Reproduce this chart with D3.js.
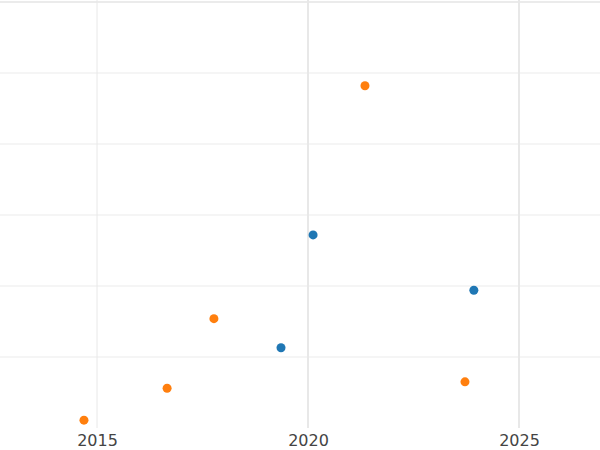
<!DOCTYPE html>
<html><head><meta charset="utf-8">
<script src="https://cdn.jsdelivr.net/npm/d3@7"></script>
<style>body{margin:0;background:#fff}</style>
</head><body>
<svg id="chart" width="600" height="450"></svg>
<script>
// series data
var orangeX = [2014.69, 2016.66, 2017.77, 2021.35, 2023.72];
var orangeY = [0.11, 0.56, 1.54, 4.82, 0.65];
var blueX = [2019.36, 2020.12, 2023.93];
var blueY = [1.13, 2.72, 1.94];
var xTicks = [2015, 2020, 2025];
var yTicks = [1, 2, 3, 4, 5, 6];

var svg = d3.select("#chart");
var x = d3.scaleLinear().domain([2012.7, 2026.92]).range([0, 600]);
var y = d3.scaleLinear().domain([0, 6]).range([428, 2]);

svg.selectAll(".hg").data(yTicks).enter().append("line")
    .attr("x1", 0).attr("x2", 600)
    .attr("y1", function(d){ return y(d); }).attr("y2", function(d){ return y(d); })
    .style("stroke", "#ebebeb").style("stroke-width", function(d){ return d==6 ? 2 : 1; });

svg.selectAll(".vg").data(xTicks).enter().append("line")
    .attr("x1", function(d){ return x(d); }).attr("x2", function(d){ return x(d); })
    .attr("y1", 0).attr("y2", 428)
    .style("stroke", "#e8e8e8").style("stroke-width", function(d){ return d==2015 ? 1 : 2; });

var xAxis = svg.append("g").attr("transform", "translate(0,428)")
    .call(d3.axisBottom(x).tickValues(xTicks).tickFormat(d3.format("d")).tickSize(0).tickPadding(7));
xAxis.select(".domain").remove();
xAxis.selectAll("text").style("font-family", "DejaVu Sans").style("font-size", "16px").style("fill", "#444");

function dots(xs, ys, color) {
    svg.append("g").selectAll("circle").data(xs).enter().append("circle")
        .attr("cx", function(d){ return x(d); })
        .attr("cy", function(d, i){ return y(ys[i]); })
        .attr("r", 4.5).style("fill", color);
}
dots(orangeX, orangeY, "#ff7f0e");
dots(blueX, blueY, "#1f77b4");
</script>
</body></html>
